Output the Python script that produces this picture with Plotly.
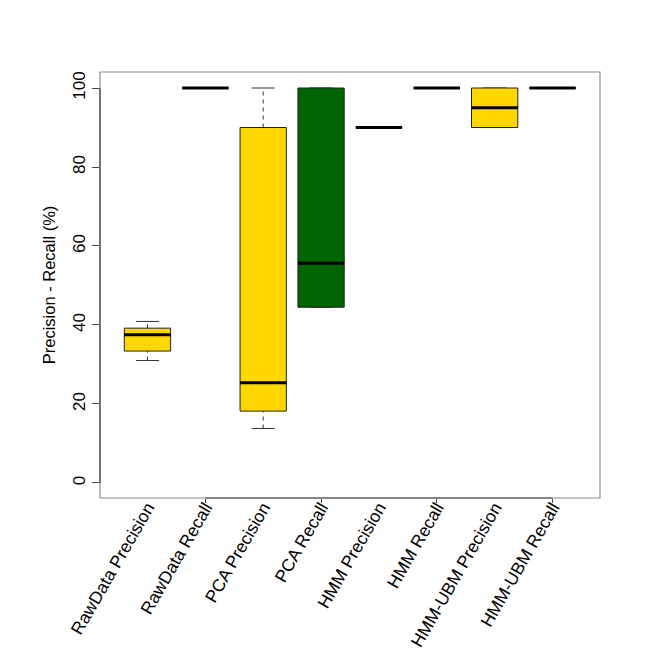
import plotly.graph_objects as go

# box statistics (percent)
labels = ["RawData Precision", "RawData Recall", "PCA Precision", "PCA Recall",
          "HMM Precision", "HMM Recall", "HMM-UBM Precision", "HMM-UBM Recall"]
lower = [31.0, 100, 13.8, 44.5, 90, 100, 90, 100]
q1 = [33.4, 100, 18.2, 44.5, 90, 100, 90, 100]
median = [37.5, 100, 25.4, 55.6, 90, 100, 95, 100]
q3 = [39.2, 100, 90.0, 100, 90, 100, 100, 100]
upper = [40.9, 100, 100, 100, 90, 100, 100, 100]
fills = ["#FFD700", "#006400"] * 4

HALF = 0.4   # half box width (R boxwex 0.8)
CAP = 0.2    # half staple width

fig = go.Figure()

for i in range(len(labels)):
    x = i + 1
    # whiskers (dashed) and staples
    fig.add_trace(go.Scatter(x=[x, x], y=[q3[i], upper[i]], mode="lines",
                             line=dict(color="#333333", width=1, dash="4px,4px"),
                             hoverinfo="skip", showlegend=False))
    fig.add_trace(go.Scatter(x=[x, x], y=[lower[i], q1[i]], mode="lines",
                             line=dict(color="#333333", width=1, dash="4px,4px"),
                             hoverinfo="skip", showlegend=False))
    for v in (lower[i], upper[i]):
        fig.add_trace(go.Scatter(x=[x - CAP, x + CAP], y=[v, v], mode="lines",
                                 line=dict(color="#333333", width=1),
                                 hoverinfo="skip", showlegend=False))
    # box
    fig.add_trace(go.Scatter(
        x=[x - HALF, x + HALF, x + HALF, x - HALF, x - HALF],
        y=[q1[i], q1[i], q3[i], q3[i], q1[i]],
        mode="lines", fill="toself", fillcolor=fills[i],
        line=dict(color="#222222", width=1),
        hoverinfo="skip", showlegend=False))
    # median
    fig.add_trace(go.Scatter(x=[x - HALF, x + HALF], y=[median[i], median[i]],
                             mode="lines", line=dict(color="black", width=3),
                             hoverinfo="skip", showlegend=False))

# dummy trace so the tick-only overlay axis is drawn
fig.add_trace(go.Scatter(x=[2], y=[0], xaxis="x2", mode="markers",
                         marker=dict(opacity=0), hoverinfo="skip", showlegend=False))

xr = [0.18, 8.82]
fig.update_layout(
    width=672, height=672,
    margin=dict(l=92, r=80, t=64, b=182),
    plot_bgcolor="white", paper_bgcolor="white",
    font=dict(family="Liberation Sans, Arial, sans-serif", size=16, color="black"),
    xaxis=dict(range=xr, tickvals=list(range(1, 9)), ticktext=labels,
               tickangle=-60, ticks="", showgrid=False, zeroline=False,
               showline=False, tickfont=dict(size=17.5), ticklabelstandoff=-5),
    xaxis2=dict(range=xr, overlaying="x", side="bottom", anchor="y",
                tickvals=[2, 4, 6, 8], ticks="outside", ticklen=4, tickwidth=1,
                tickcolor="#444444", showticklabels=False, showgrid=False,
                zeroline=False, showline=False),
    yaxis=dict(range=[-3.8, 104.05], tickvals=[0, 20, 40, 60, 80, 100],
               ticks="outside", ticklen=7, tickwidth=1, tickcolor="#444444",
               tickangle=-90, showgrid=False, zeroline=False, showline=False,
               tickfont=dict(size=17),
               title=dict(text="Precision - Recall (%)", standoff=10,
                          font=dict(size=16.5))),
    shapes=[
        dict(type="rect", xref="paper", yref="paper", x0=0, y0=0, x1=1, y1=1,
             line=dict(color="#8c8c8c", width=1.2), layer="above"),
        dict(type="line", xref="paper", yref="y", x0=0, x1=0, y0=0, y1=100,
             line=dict(color="#444444", width=1.2), layer="above"),
        dict(type="line", xref="x", yref="paper", x0=2, x1=8, y0=0, y1=0,
             line=dict(color="#444444", width=1.2), layer="above"),
    ],
)

fig.write_html("out.html")
